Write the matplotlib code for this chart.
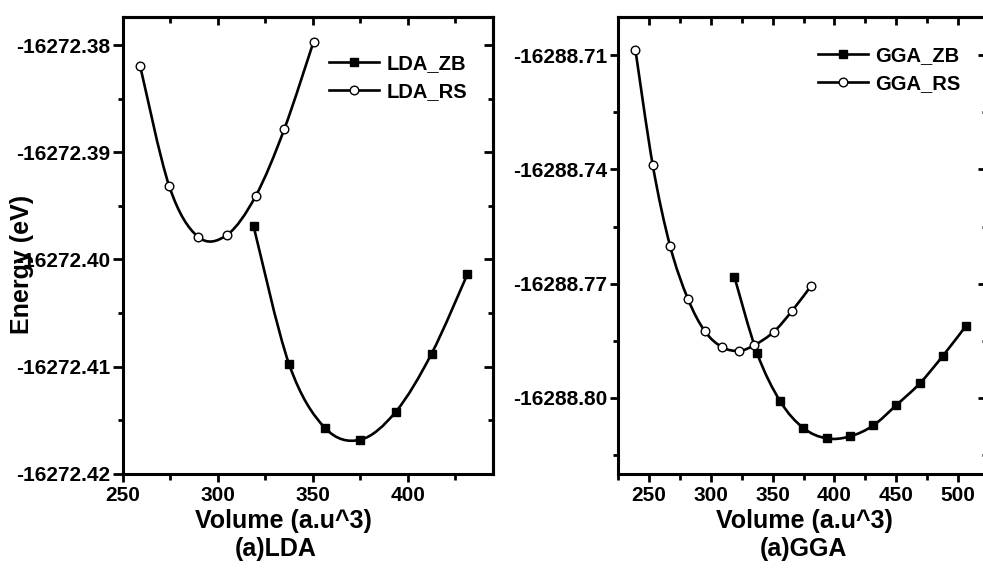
import matplotlib
matplotlib.use('Agg')
import matplotlib.pyplot as plt
from matplotlib.path import Path
from matplotlib.patches import PathPatch
from matplotlib.lines import Line2D
from matplotlib.ticker import FixedLocator, MultipleLocator, FormatStrFormatter

plt.rcParams['font.family'] = ['Liberation Sans', 'DejaVu Sans']
plt.rcParams['font.weight'] = 'bold'

# LDA total energy vs volume
lda_zb_vol = [318.8, 337.5, 356.3, 374.9, 393.7, 412.5, 431.4]
lda_zb_e = [-16272.39692, -16272.40979, -16272.41571, -16272.41683,
            -16272.41421, -16272.40880, -16272.40137]
lda_rs_vol = [259.1, 274.4, 289.5, 304.7, 319.8, 334.9, 350.4]
lda_rs_e = [-16272.38199, -16272.39318, -16272.39788, -16272.39772,
            -16272.39411, -16272.38786, -16272.37966]

# GGA total energy vs volume
gga_zb_vol = [319.0, 337.4, 356.2, 374.8, 393.7, 412.6, 431.5, 449.8, 469.0, 487.6, 506.5]
gga_zb_e = [-16288.76819, -16288.78830, -16288.80100, -16288.80798, -16288.81071,
            -16288.81019, -16288.80730, -16288.80205, -16288.79627, -16288.78908,
            -16288.78113]
gga_rs_vol = [238.9, 253.0, 267.0, 281.3, 295.1, 309.1, 322.8, 335.2, 350.9, 365.7, 381.1]
gga_rs_e = [-16288.70850, -16288.73895, -16288.76013, -16288.77394, -16288.78252,
            -16288.78672, -16288.78769, -16288.78620, -16288.78270, -16288.77719,
            -16288.77063]

lda_ticks_y = [-16272.42, -16272.41, -16272.40, -16272.39, -16272.38]
gga_ticks_y = [-16288.80, -16288.77, -16288.74, -16288.71]

LW = 1.9
TICK_FS = 15
LABEL_FS = 18


def smooth_path(xs, ys):
    # Catmull-Rom spline through the points, written as cubic Bezier segments
    verts = [(xs[0], ys[0])]
    codes = [Path.MOVETO]
    n = len(xs)
    for i in range(n - 1):
        x0, y0 = (xs[i - 1], ys[i - 1]) if i > 0 else (xs[i], ys[i])
        x1, y1 = xs[i], ys[i]
        x2, y2 = xs[i + 1], ys[i + 1]
        x3, y3 = (xs[i + 2], ys[i + 2]) if i + 2 < n else (x2, y2)
        c1 = (x1 + (x2 - x0) / 6.0, y1 + (y2 - y0) / 6.0)
        c2 = (x2 - (x3 - x1) / 6.0, y2 - (y3 - y1) / 6.0)
        verts += [c1, c2, (x2, y2)]
        codes += [Path.CURVE4] * 3
    return Path(verts, codes)


def draw_series(ax, xs, ys, marker, face):
    ax.add_patch(PathPatch(smooth_path(xs, ys), fill=False, lw=LW, ec='black',
                           zorder=2))
    ax.plot(xs, ys, ls='none', marker=marker, ms=6.2 if marker == 'o' else 6,
            mfc=face, mec='black', mew=1.0, zorder=3)


def style_axes(ax, xmajor, ylocs, yminor, lmaj):
    for s in ax.spines.values():
        s.set_linewidth(2.2)
    ax.xaxis.set_major_locator(MultipleLocator(xmajor))
    ax.xaxis.set_minor_locator(MultipleLocator(xmajor / 2))
    ax.yaxis.set_major_locator(FixedLocator(ylocs))
    ax.yaxis.set_minor_locator(FixedLocator(yminor))
    ax.yaxis.set_major_formatter(FormatStrFormatter('%.2f'))
    ax.xaxis.set_major_formatter(FormatStrFormatter('%d'))
    ax.tick_params(axis='x', which='major', direction='out', length=6, width=2,
                   labelsize=TICK_FS, pad=3)
    ax.tick_params(axis='x', which='minor', direction='out', length=4, width=2)
    ax.tick_params(axis='y', which='major', direction='out', length=lmaj, width=2,
                   labelsize=TICK_FS, pad=2)
    ax.tick_params(axis='y', which='minor', direction='out', length=3.5, width=2)
    # mirrored ticks pointing inward on top and right
    top = ax.secondary_xaxis('top')
    top.xaxis.set_major_locator(MultipleLocator(xmajor))
    top.xaxis.set_minor_locator(MultipleLocator(xmajor / 2))
    top.tick_params(which='major', direction='in', length=6, width=2, labeltop=False)
    top.tick_params(which='minor', direction='in', length=4, width=2)
    top.spines['top'].set_linewidth(2.2)
    right = ax.secondary_yaxis('right')
    right.yaxis.set_major_locator(FixedLocator(ylocs))
    right.yaxis.set_minor_locator(FixedLocator(yminor))
    right.tick_params(which='major', direction='in', length=6.5, width=2,
                      labelright=False)
    right.tick_params(which='minor', direction='in', length=3.5, width=2)
    right.spines['right'].set_linewidth(2.2)


def add_legend(ax, names, x_px, y_px):
    handles = [Line2D([], [], color='black', lw=LW, marker='s', ms=6),
               Line2D([], [], color='black', lw=LW, marker='o', ms=6.2, mfc='white')]
    ax.legend(handles, names, loc='upper left',
              bbox_to_anchor=(x_px / 983, 1 - y_px / 568), bbox_transform=fig.transFigure,
              frameon=False, borderpad=0, borderaxespad=0, handlelength=2.5,
              handletextpad=0.35, labelspacing=0.45,
              prop={'size': 14.5, 'weight': 'bold'})


fig = plt.figure(figsize=(9.83, 5.68), dpi=100)

# (a) LDA
ax1 = fig.add_axes([0.1251, 0.166, 0.3767, 0.8035])
draw_series(ax1, lda_zb_vol, lda_zb_e, 's', 'black')
draw_series(ax1, lda_rs_vol, lda_rs_e, 'o', 'white')
ax1.set_xlim(250, 445)
ax1.set_ylim(-16272.42, -16272.3774)
style_axes(ax1, 50, lda_ticks_y,
           [-16272.415, -16272.405, -16272.395, -16272.385], 7.2)
add_legend(ax1, ['LDA_ZB', 'LDA_RS'], 329, 54)

# (a) GGA, right edge runs just past the figure border
ax2 = fig.add_axes([0.6289, 0.166, 0.3752, 0.8035])
draw_series(ax2, gga_zb_vol, gga_zb_e, 's', 'black')
draw_series(ax2, gga_rs_vol, gga_rs_e, 'o', 'white')
ax2.set_xlim(225, 523.5)
ax2.set_ylim(-16288.82, -16288.70)
style_axes(ax2, 50, gga_ticks_y,
           [-16288.815, -16288.785, -16288.755, -16288.725], 5.8)
add_legend(ax2, ['GGA_ZB', 'GGA_RS'], 818, 46)

# axis titles and panel captions
fig.text(22 / 983, 1 - 264 / 568, 'Energy (eV)', rotation=90, ha='center',
         va='center', fontsize=LABEL_FS, fontweight='bold')
fig.text(283 / 983, 1 - 521 / 568, 'Volume (a.u^3)', ha='center', va='center',
         fontsize=LABEL_FS, fontweight='bold')
fig.text(276 / 983, 1 - 549 / 568, '(a)LDA', ha='center', va='center',
         fontsize=LABEL_FS, fontweight='bold')
fig.text(804 / 983, 1 - 521 / 568, 'Volume (a.u^3)', ha='center', va='center',
         fontsize=LABEL_FS, fontweight='bold')
fig.text(803 / 983, 1 - 549 / 568, '(a)GGA', ha='center', va='center',
         fontsize=LABEL_FS, fontweight='bold')

fig.savefig('out.png', dpi=100)
